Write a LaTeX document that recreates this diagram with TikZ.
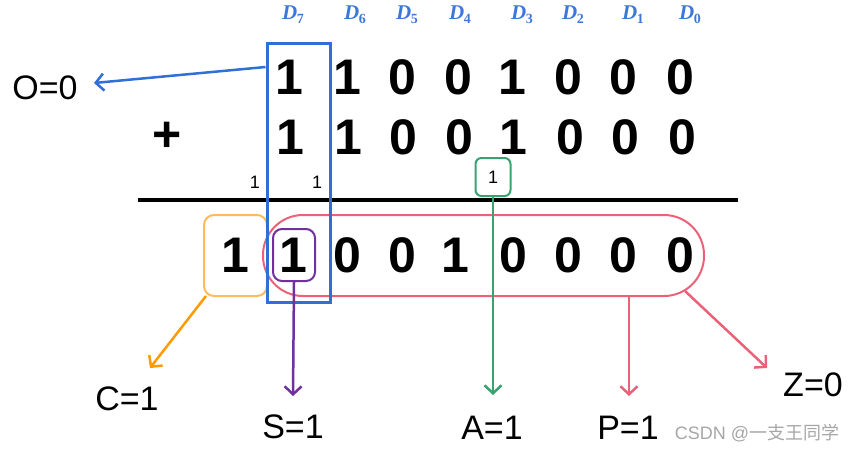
\documentclass[tikz,border=0pt]{standalone}
\usepackage{fontspec}
\setmainfont{Liberation Sans}
\newfontfamily\cjkfont{Noto Sans CJK SC}
\newfontfamily\bitfont{Liberation Serif}
\usetikzlibrary{positioning, calc, arrows.meta}

\definecolor{colblue}{HTML}{2F6FD6}
\definecolor{dblue}{HTML}{3D78D8}
\definecolor{carryorange}{HTML}{FF9A00}
\definecolor{boxorange}{HTML}{FFBA5C}
\definecolor{flagred}{HTML}{EC6178}
\definecolor{signpurple}{HTML}{7030A0}
\definecolor{auxgreen}{HTML}{35A46E}

\newcommand{\bitname}[1]{{\bfseries\itshape D}\kern-0.5pt\raisebox{-4pt}{\bfseries\fontsize{14}{14}\selectfont #1}}

\tikzset{
	digit/.style={font=\fontsize{50}{50}\selectfont\bfseries, inner sep=0pt},
	dlabel/.style={text=dblue, font=\bitfont\fontsize{21}{21}\selectfont, inner sep=0pt},
	carry/.style={font=\fontsize{18}{18}\selectfont, inner sep=0pt},
	flag/.style={font=\fontsize{34}{34}\selectfont, inner sep=0pt},
	flagarrow/.style={line width=2.5pt, -{Straight Barb[length=8pt,width=17pt]}}
}

\begin{document}
\begin{tikzpicture}[x=1pt,y=-1pt]
			\useasboundingbox (0,0) rectangle (858,451);
			
			% bit names
			\node[dlabel] (d7) at (293,15) {\bitname{7}};
			\node[dlabel] (d6) at (355,15) {\bitname{6}};
			\node[dlabel] (d5) at (407,15) {\bitname{5}};
			\node[dlabel] (d4) at (460,15) {\bitname{4}};
			\node[dlabel] (d3) at (522,15) {\bitname{3}};
			\node[dlabel] (d2) at (573,15) {\bitname{2}};
			\node[dlabel] (d1) at (633,15) {\bitname{1}};
			\node[dlabel] (d0) at (690,15) {\bitname{0}};
			
			% first operand
			\node[digit] (a7) at (289,77) {1};
			\node[digit] (a6) at (347,77) {1};
			\node[digit] (a5) at (402,77) {0};
			\node[digit] (a4) at (458,77) {0};
			\node[digit] (a3) at (512,77) {1};
			\node[digit] (a2) at (568,77) {0};
			\node[digit] (a1) at (623,77) {0};
			\node[digit] (a0) at (680,77) {0};
			
			% second operand
			\node[digit] (plus) at (167,137) {+};
			\node[digit] (b7) at (290,137) {1};
			\node[digit] (b6) at (348,137) {1};
			\node[digit] (b5) at (403,137) {0};
			\node[digit] (b4) at (459,137) {0};
			\node[digit] (b3) at (513,137) {1};
			\node[digit] (b2) at (570,137) {0};
			\node[digit] (b1) at (625,137) {0};
			\node[digit] (b0) at (682,137) {0};
			
			% carries
			\node[carry] (c8) at (255,182) {1};
			\node[carry] (c7) at (317,182) {1};
			\node[carry, draw=auxgreen, line width=2pt, rounded corners=6pt, minimum width=35pt, minimum height=38pt] (aux) at (493,177) {1};
			
			\draw[line width=4pt] (138,200) -- (738,200);
			
			% result
			\node[draw=flagred, line width=2pt, rounded corners=40pt, minimum width=441pt, minimum height=81pt] (pill) at (483.5,255.5) {};
			\node[draw=boxorange, line width=2pt, rounded corners=10pt, minimum width=63pt, minimum height=81pt] (cbox) at (235.5,255.5) {};
			\node[draw=signpurple, line width=2pt, rounded corners=9pt, minimum width=42pt, minimum height=52pt] (sbox) at (294,255) {};
			\node[digit] (r8) at (235,255) {1};
			\node[digit] (r7) at (293,255) {1};
			\node[digit] (r6) at (347,255) {0};
			\node[digit] (r5) at (402,255) {0};
			\node[digit] (r4) at (455,255) {1};
			\node[digit] (r3) at (513,255) {0};
			\node[digit] (r2) at (568,255) {0};
			\node[digit] (r1) at (623,255) {0};
			\node[digit] (r0) at (680,255) {0};
			
			% D7 column
			\node[draw=colblue, line width=3pt, minimum width=63pt, minimum height=259pt] (msb) at (298.5,172.5) {};
			
			% flags
			\node[flag] (oflag) at (45,88) {O=0};
			\node[flag] (cflag) at (127,399) {C=1};
			\node[flag] (sflag) at (293,427) {S=1};
			\node[flag] (aflag) at (492,428) {A=1};
			\node[flag] (pflag) at (628,428) {P=1};
			\node[flag] (zflag) at (813,385) {Z=0};
			
			\coordinate (otip) at (94,83);
			\coordinate (ctip) at (150,368);
			\coordinate (stip) at (293,396);
			\coordinate (atip) at (493,395);
			\coordinate (ptip) at (629,396);
			\coordinate (ztip) at (767,368);
			
			\draw[flagarrow, colblue] ([yshift=10pt]msb.west |- a7) -- (otip);
			\draw[flagarrow, carryorange] ([xshift=3pt,yshift=1pt]cbox.south west) -- (ctip);
			\draw[flagarrow, signpurple] (sbox.south) -- (stip);
			\draw[flagarrow, auxgreen] (aux.south) -- (atip);
			\draw[flagarrow, flagred] (pill.south -| ptip) -- (ptip);
			\draw[flagarrow, flagred] ($(pill.south east)+(-20,-6)$) -- (ztip);
			
			\node[text=gray!70, font=\fontsize{18}{18}\selectfont, inner sep=0pt] (mark) at (757,433) {CSDN @{\cjkfont 一支王同学}};
		\end{tikzpicture}
\end{document}
